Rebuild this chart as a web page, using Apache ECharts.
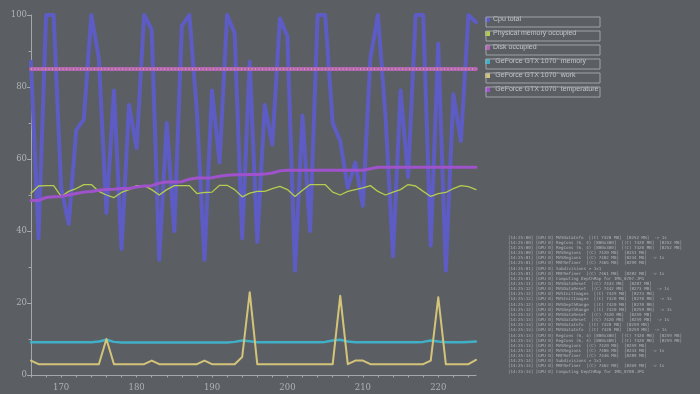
<!DOCTYPE html>
<html>
<head>
<meta charset="utf-8">
<script src="https://cdn.jsdelivr.net/npm/echarts@6/dist/echarts.min.js"></script>
<style>
html,body{margin:0;padding:0;background:#5b5f63;}
#c{width:700px;height:394px;}
</style>
</head>
<body>
<div id="c"></div>
<script>
const times = [166,167,168,169,170,171,172,173,174,175,176,177,178,179,180,181,182,183,184,185,186,187,188,189,190,191,192,193,194,195,196,197,198,199,200,201,202,203,204,205,206,207,208,209,210,211,212,213,214,215,216,217,218,219,220,221,222,223,224,225];
const cpuTotal = [87,38,100,100,52,42,68,71,100,88,45,79,35,75,63,100,96,32,70,40,97,100,73,32,79,59,100,95,38,87,37,75,64,99,94,29,72,40,100,100,70,65,52,59,47,88,100,72,33,79,55,100,100,36,92,29,78,65,100,98];
const physMem = [50.5,52.5,52.6,52.6,49.6,51,51.8,52.9,52.9,51,50,49.3,50.7,51.5,52.6,52.6,51.5,50,51.5,52.6,52.6,52.6,50.4,50.7,50.8,52.7,52.7,51.5,49.5,50.5,51,51,51.8,52.4,51.5,49.6,51.3,52.9,52.9,52.9,50.8,50,51,51.5,52,52.6,51,50,50.8,51.5,52.9,52.5,51,49.6,50.4,50.7,51.8,52.6,52.3,51.5];
const diskOcc = [85,85,85,85,85,85,85,85,85,85,85,85,85,85,85,85,85,85,85,85,85,85,85,85,85,85,85,85,85,85,85,85,85,85,85,85,85,85,85,85,85,85,85,85,85,85,85,85,85,85,85,85,85,85,85,85,85,85,85,85];
const gpuMem = [9.1,9.1,9.1,9.1,9.1,9.1,9.1,9.1,9.1,9.3,9.8,9.2,9.0,9.0,9.0,9.0,9.0,9.0,9.0,9.0,9.0,9.0,9.0,9.0,9.0,9.0,9.0,9.2,9.6,9.4,9.1,9.1,9.1,9.1,9.1,9.1,9.1,9.1,9.1,9.2,9.6,9.8,9.3,9.1,9.1,9.1,9.1,9.1,9.1,9.1,9.1,9.1,9.2,9.6,9.3,9.1,9.1,9.1,9.2,9.3];
const gpuWork = [4,3,3,3,3,3,3,3,3,3,10,3,3,3,3,3,4,3,3,3,3,3,3,4,3,3,3,3,5,23,3,3,3,3,3,3,3,3,3,3,3,22,3,4,4,3,3,3,3,3,3,3,3,4,21.6,3,3,3,3,4.2];
const gpuTemp = [48.5,48.5,49.3,49.5,49.6,50,50.4,50.8,51,51.3,51.5,51.6,51.8,51.8,52.2,52.5,52.6,53.3,53.6,53.6,53.7,54.4,54.7,54.7,54.8,55.2,55.5,55.6,55.6,55.7,55.7,55.8,56.1,56.7,56.9,56.9,56.9,56.9,56.9,56.9,56.9,56.9,56.9,56.9,56.9,57.3,57.7,57.7,57.7,57.7,57.7,57.7,57.7,57.7,57.7,57.7,57.7,57.7,57.7,57.7];
const seriesNames = ['Cpu total','Physical memory occupied','Disk occupied','`GeForce GTX 1070` memory','`GeForce GTX 1070` work','`GeForce GTX 1070` temperature'];
const yTicks = [0,20,40,60,80,100];
const xTicks = [170,180,190,200,210,220];
const xTickMarks = [166,168,170,172,174,176,178,180,182,184,186,188,190,192,194,196,198,200,202,204,206,208,210,212,214,216,218,220,222,224];
const logLines = [
'[14:25:00] [GPU 0] MVSDataInfo  [(C) 7420 MB]  [8252 MB]  -> 1s',
'[14:25:00] [GPU 0] RegCons (6, 4) [800x300]  [(C) 7420 MB]  [8252 MB]',
'[14:25:00] [GPU 0] RegCons (6, 4) [800x300]  [(C) 7420 MB]  [8252 MB]',
'[14:25:00] [GPU 0] MVSRegions  [(C) 7420 MB]  [8251 MB]',
'[14:25:01] [GPU 0] MVSRegions  [(C) 7402 MB]  [8234 MB]  -> 1s',
'[14:25:01] [GPU 0] MRFRefiner  [(C) 7465 MB]  [8299 MB]',
'[14:25:01] [GPU 0] Subdivisions = 1x1',
'[14:25:01] [GPU 0] MRFRefiner  [(C) 7461 MB]  [8282 MB]  -> 1s',
'[14:25:01] [GPU 0] Computing DepthMap for IMG_0707.JPG',
'[14:25:11] [GPU 0] MVSDataReset  [(C) 7443 MB]  [8287 MB]',
'[14:25:12] [GPU 0] MVSDataReset  [(C) 7442 MB]  [8273 MB]  -> 1s',
'[14:25:12] [GPU 0] MVSInitImages  [(C) 7449 MB]  [8273 MB]',
'[14:25:12] [GPU 0] MVSInitImages  [(C) 7420 MB]  [8270 MB]  -> 1s',
'[14:25:12] [GPU 0] MVSDepthRange  [(C) 7420 MB]  [8270 MB]',
'[14:25:12] [GPU 0] MVSDepthRange  [(C) 7420 MB]  [8259 MB]  -> 1s',
'[14:25:12] [GPU 0] MVSDataReset  [(C) 7420 MB]  [8259 MB]',
'[14:25:13] [GPU 0] MVSDataReset  [(C) 7420 MB]  [8259 MB]  -> 1s',
'[14:25:13] [GPU 0] MVSDataInfo  [(C) 7420 MB]  [8259 MB]',
'[14:25:13] [GPU 0] MVSDataInfo  [(C) 7420 MB]  [8259 MB]  -> 1s',
'[14:25:13] [GPU 0] RegCons (6, 4) [800x300]  [(C) 7420 MB]  [8259 MB]',
'[14:25:13] [GPU 0] RegCons (6, 4) [800x300]  [(C) 7420 MB]  [8259 MB]',
'[14:25:13] [GPU 0] MVSRegions  [(C) 7420 MB]  [8259 MB]',
'[14:25:14] [GPU 0] MVSRegions  [(C) 7406 MB]  [8233 MB]  -> 1s',
'[14:25:14] [GPU 0] MRFRefiner  [(C) 7446 MB]  [8289 MB]',
'[14:25:14] [GPU 0] Subdivisions = 1x1',
'[14:25:14] [GPU 0] MRFRefiner  [(C) 7462 MB]  [8269 MB]  -> 1s',
'[14:25:14] [GPU 0] Computing DepthMap for IMG_0708.JPG'
];

const colors = ['#5c5cc4','#b4cc50','#b464b4','#40b0c8','#d4c47a','#a052cc'];
const widths = [4,1.3,4,2.5,2,3];
const allData = [cpuTotal, physMem, diskOcc, gpuMem, gpuWork, gpuTemp];

const pair = arr => times.map((t,i)=>[t, arr[i]]);

const chart = echarts.init(document.getElementById('c'), null, {renderer:'canvas'});
const axisCol = '#a4a8ac';
const labelFont = {color:'#aeb2b6', fontSize:8.5, fontFamily:'DejaVu Serif'};

const boxes = seriesNames.map((n,i)=>({
  type:'rect', left:483.5, top:14.5+14*i, z:100,
  shape:{width:114, height:10},
  style:{fill:'none', stroke:'#a0a4a8', lineWidth:1}
}));

const series = seriesNames.map((n,i)=>({
  name:n, type:'line', data:pair(allData[i]),
  showSymbol:false, symbol:'none',
  lineStyle:{color:colors[i], width:widths[i], join:'round', cap:'round'},
  itemStyle:{color:colors[i]},
  z: 2+i
}));
// dotted highlight running along the disk line, as in the reference rendering
series.push({
  name:'Disk occupied', type:'line', data:pair(diskOcc), showSymbol:false, symbol:'none',
  lineStyle:{color:'#e0c878', width:1, type:[1,2.5]}, z:5, silent:true
});

chart.setOption({
  backgroundColor:'#5b5f63',
  animation:false,
  color: colors,
  grid:{left:31, right:224, top:15, bottom:19},
  xAxis:{
    type:'value', min:166, max:225,
    offset:3,
    axisLine:{lineStyle:{color:axisCol, width:1}},
    axisTick:{show:true, length:2.5, customValues:xTickMarks, lineStyle:{color:axisCol}},
    splitLine:{show:false},
    axisLabel:Object.assign({margin:5, customValues:xTicks}, labelFont)
  },
  yAxis:{
    type:'value', min:0, max:100, interval:20,
    axisLine:{show:true, lineStyle:{color:axisCol, width:1}},
    axisTick:{show:true, length:4, lineStyle:{color:axisCol}},
    minorTick:{show:true, splitNumber:2, length:2.5, lineStyle:{color:axisCol}},
    splitLine:{show:false},
    axisLabel:Object.assign({margin:4}, labelFont)
  },
  legend:{
    orient:'vertical', left:485, top:14.5, padding:0, itemGap:4,
    itemWidth:5, itemHeight:5, icon:'rect', selectedMode:false,
    data:seriesNames,
    textStyle:{color:'#c4c8cc', fontSize:7, lineHeight:10, fontFamily:'Liberation Sans', padding:[0,0,0,-2]}
  },
  series: series,
  graphic: boxes.concat([{
    type:'text', left:508, top:235, z:100,
    style:{text:logLines.join('\n'), font:'4.2px "DejaVu Sans Mono"', lineHeight:5.15, fill:'#b0b4b8'}
  }])
});
</script>
</body>
</html>
